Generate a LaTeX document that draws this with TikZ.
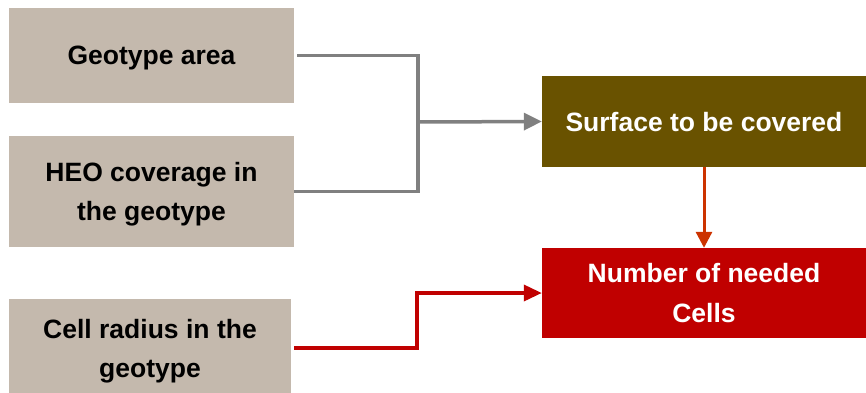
\documentclass[tikz,border=0pt]{standalone}
\usepackage{fontspec}
\setmainfont{Liberation Sans}
\usetikzlibrary{arrows.meta}

\definecolor{boxtan}{HTML}{C4B9AD}
\definecolor{boxolive}{HTML}{695200}
\definecolor{boxred}{HTML}{C00000}
\definecolor{linegray}{HTML}{808080}
\definecolor{lineorange}{HTML}{CC3300}

\tikzset{
	inbox/.style={fill=boxtan, align=center, inner sep=0pt, text depth=0pt,
		font=\fontsize{26.5}{39}\selectfont\bfseries},
	outbox/.style={align=center, inner sep=0pt, text=white, text depth=0pt,
		font=\fontsize{26.5}{40}\selectfont\bfseries},
	flow/.style={line width=3.5pt, -{Triangle[length=18pt,width=17pt]}},
}

\begin{document}
\begin{tikzpicture}[x=1pt, y=-1pt]
		\useasboundingbox (0,0) rectangle (866,392);

		\node[inbox, minimum width=285pt, minimum height=95pt] (geo) at (151.5,55.5) {Geotype area};
		\node[inbox, minimum width=285pt, minimum height=111pt] (heo) at (151.5,191.5) {HEO coverage in\\the geotype};
		\node[inbox, minimum width=282pt, minimum height=98pt] (cell) at (150,348) {Cell radius in the\\geotype};

		\node[outbox, fill=boxolive, minimum width=324pt, minimum height=91pt] (surf) at (704,121.5) {Surface to be covered};
		\node[outbox, fill=boxred, minimum width=324pt, minimum height=90pt] (cells) at (704,293) {Number of needed\\Cells};

		\coordinate (join) at (418,122);

		\draw[linegray, line width=3.5pt] ([xshift=3pt]geo.east) -| (join);
		\draw[linegray, line width=3.5pt] (heo.east) -| (join);
		\draw[flow, linegray] (join) -- (surf.west);
		\draw[flow, lineorange, line width=3pt, -{Triangle[length=16pt,width=16pt]}] (surf.south) -- (cells.north);
		\draw[flow, boxred, -{Triangle[length=18pt,width=16pt]}] ([xshift=3pt]cell.east) -- ++(123,0) |- (cells.west);
	\end{tikzpicture}
\end{document}
